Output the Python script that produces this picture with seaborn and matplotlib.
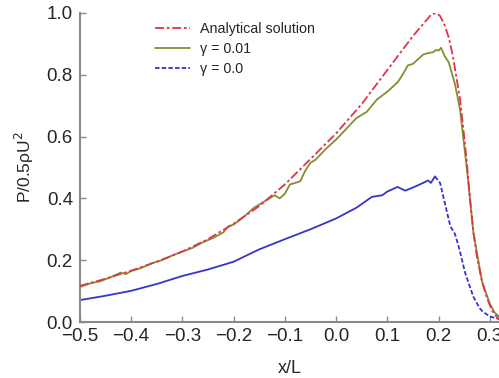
import matplotlib
matplotlib.use("Agg")
import matplotlib.pyplot as plt
from matplotlib.lines import Line2D
import numpy as np
import pandas as pd
import seaborn as sns

# Analytical pressure distribution
x_analytical = [-0.50, -0.45, -0.40, -0.35, -0.30, -0.25, -0.20, -0.15, -0.10, -0.05,
                0.00, 0.05, 0.10, 0.15, 0.185, 0.195, 0.203, 0.212, 0.220, 0.228,
                0.235, 0.242, 0.250, 0.255, 0.262, 0.268, 0.275, 0.285, 0.295, 0.305,
                0.318]
p_analytical = [0.117, 0.140, 0.166, 0.195, 0.228, 0.268, 0.318, 0.375, 0.445, 0.527,
                0.610, 0.705, 0.815, 0.925, 0.993, 1.000, 0.990, 0.960, 0.920, 0.860,
                0.790, 0.720, 0.600, 0.520, 0.390, 0.290, 0.210, 0.130, 0.075, 0.035,
                0.008]

# Simulation, gamma = 0.01
x_g001 = [-0.50, -0.48, -0.46, -0.44, -0.42, -0.41, -0.40, -0.38, -0.36, -0.34,
          -0.32, -0.30, -0.28, -0.26, -0.24, -0.22, -0.21, -0.20, -0.18, -0.16,
          -0.14, -0.12, -0.11, -0.10, -0.09, -0.08, -0.07, -0.06, -0.05, -0.04,
          -0.02, 0.00, 0.02, 0.04, 0.06, 0.08, 0.10, 0.11, 0.12, 0.13,
          0.14, 0.15, 0.16, 0.17, 0.18, 0.19, 0.195, 0.200, 0.205, 0.212,
          0.220, 0.232, 0.242, 0.255, 0.268, 0.285, 0.300, 0.310, 0.318]
p_g001 = [0.113, 0.125, 0.132, 0.145, 0.160, 0.155, 0.165, 0.175, 0.190, 0.200,
          0.215, 0.228, 0.240, 0.258, 0.272, 0.290, 0.310, 0.315, 0.340, 0.370,
          0.390, 0.410, 0.400, 0.415, 0.445, 0.450, 0.455, 0.490, 0.515, 0.525,
          0.560, 0.590, 0.625, 0.660, 0.680, 0.720, 0.745, 0.760, 0.775, 0.800,
          0.830, 0.835, 0.850, 0.865, 0.870, 0.873, 0.880, 0.878, 0.887, 0.860,
          0.840, 0.770, 0.687, 0.500, 0.290, 0.130, 0.060, 0.030, 0.018]

# Simulation, gamma = 0.0
x_g000 = [-0.50, -0.45, -0.40, -0.35, -0.30, -0.25, -0.20, -0.15, -0.10, -0.05,
          0.00, 0.04, 0.07, 0.09, 0.10, 0.12, 0.135, 0.15, 0.17, 0.18,
          0.185, 0.193, 0.203, 0.213, 0.223, 0.232, 0.240, 0.252, 0.260, 0.268,
          0.280, 0.287, 0.300, 0.318]
p_g000 = [0.071, 0.085, 0.101, 0.123, 0.149, 0.170, 0.195, 0.235, 0.268, 0.300,
          0.335, 0.370, 0.405, 0.410, 0.422, 0.437, 0.425, 0.435, 0.450, 0.458,
          0.450, 0.471, 0.450, 0.380, 0.310, 0.285, 0.240, 0.159, 0.120, 0.082,
          0.045, 0.033, 0.018, 0.010]

x_ticks = [-0.5, -0.4, -0.3, -0.2, -0.1, 0.0, 0.1, 0.2, 0.3]
y_ticks = [0.0, 0.2, 0.4, 0.6, 0.8, 1.0]

sns.set_style("ticks")
plt.rcParams["font.family"] = ["Liberation Sans", "DejaVu Sans"]

RED = "#e0344c"
OLIVE = "#848f2e"
BLUE = "#3535c8"
GREY = "#8a8a8a"
DASH_DOT = (5, 1.5, 1.5, 1.5)
DASH = (2.5, 1.2)

fig = plt.figure(figsize=(4.99, 3.78), dpi=100)
ax = fig.add_axes([0.160, 0.148, 0.840, 0.818])

df_a = pd.DataFrame({"x": x_analytical, "p": p_analytical})
df_1 = pd.DataFrame({"x": x_g001, "p": p_g001})
df_0 = pd.DataFrame({"x": x_g000, "p": p_g000})

# gamma = 0.0: solid up to its peak, dashed along the steep drop
peak = int(np.argmax(p_g000))
df_0_rise = df_0.iloc[: peak + 1]
df_0_fall = df_0.iloc[peak:]

sns.lineplot(data=df_1, x="x", y="p", ax=ax, sort=False, estimator=None,
             color=OLIVE, lw=1.3, zorder=2)
sns.lineplot(data=df_0_rise, x="x", y="p", ax=ax, sort=False, estimator=None,
             color=BLUE, lw=1.3, zorder=2)
sns.lineplot(data=df_0_fall, x="x", y="p", ax=ax, sort=False, estimator=None,
             color=BLUE, lw=1.3, zorder=2)
sns.lineplot(data=df_a, x="x", y="p", ax=ax, sort=False, estimator=None,
             color=RED, lw=1.3, zorder=3)

line_g001, line_rise, line_fall, line_a = ax.lines[:4]
line_fall.set_dashes(DASH)
line_a.set_dashes(DASH_DOT)

handles = [
    Line2D([], [], color=RED, lw=1.3, dashes=DASH_DOT),
    Line2D([], [], color=OLIVE, lw=1.3),
    Line2D([], [], color=BLUE, lw=1.3, dashes=DASH),
]
labels = ["Analytical solution", "\u03b3 = 0.01", "\u03b3 = 0.0"]
ax.legend(handles, labels, loc="upper left", bbox_to_anchor=(0.179, 0.972),
          frameon=False, fontsize=10.3, handlelength=2.45, handletextpad=0.7,
          labelspacing=0.42, borderpad=0, borderaxespad=0)

ax.set_xlim(-0.5, 0.318)
ax.set_ylim(0.0, 1.0)
ax.set_xticks(x_ticks)
ax.set_yticks(y_ticks)
ax.set_xticklabels([f"{t:.1f}".replace("-", "\u2212") for t in x_ticks])
ax.set_yticklabels([f"{t:.1f}" for t in y_ticks])
ax.tick_params(direction="in", length=4, width=1, color=GREY, labelsize=13.5)
ax.tick_params(axis="y", pad=5)
ax.tick_params(axis="x", pad=4)
ax.set_xlabel("x/L", fontsize=13, labelpad=11)
ax.set_ylabel("P/0.5\u03c1U$^2$", fontsize=12.5, labelpad=8)

sns.despine(ax=ax)
for side in ("left", "bottom"):
    ax.spines[side].set_color(GREY)
    ax.spines[side].set_linewidth(1.5)

fig.savefig("out.png", dpi=100)
